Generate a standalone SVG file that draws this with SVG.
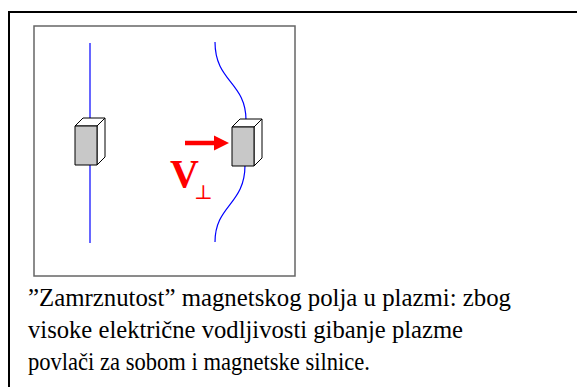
<svg xmlns="http://www.w3.org/2000/svg" width="577" height="387" viewBox="0 0 577 387">
  <defs>
    <style>
      .frame { fill: none; stroke: #000; stroke-width: 2; }
      .panel { fill: #fff; stroke: #666; stroke-width: 1.5; }
      .field { fill: none; stroke: #0000ff; stroke-width: 1.2; }
      .face { stroke: #000; stroke-width: 1; stroke-linejoin: round; }
      .front { fill: #c8c8c8; }
      .side { fill: #fff; }
      .serif { font-family: "Liberation Serif", "Times New Roman", "DejaVu Serif", serif; }
      .caption { font-size: 25px; fill: #000; }
      .vel { fill: #ff0000; }
    </style>
    <!-- block of plasma: front face, top and right side -->
    <g id="block">
      <polygon class="face side" points="0,0 8,-8 30,-8 22,0"/>
      <polygon class="face side" points="22,0 30,-8 30,31 22,39"/>
      <rect class="face front" x="0" y="0" width="22" height="39"/>
    </g>
  </defs>

  <rect class="frame" x="9" y="12" width="620" height="420"/>

  <g id="panel">
    <rect class="panel" x="34" y="26" width="261" height="250"/>
  </g>

  <!-- field lines -->
  <g id="connectors">
    <line class="field" x1="90" y1="43" x2="90" y2="243"/>
    <path class="field" d="M215,42 C215,82 246,82 246,120"/>
    <path class="field" d="M245,165 C245,205 215,205 215,242"/>
  </g>

  <g id="block-left">
    <use href="#block" x="75" y="126"/>
  </g>
  <g id="block-right">
    <use href="#block" x="232" y="127"/>
  </g>

  <g id="velocity">
    <line x1="185" y1="143" x2="216" y2="143" stroke="#ff0000" stroke-width="4.5"/>
    <polygon points="214,135.5 229,143 214,150.5" fill="#ff0000"/>
    <text class="vel serif" x="170" y="187" font-size="40" font-weight="bold">V<tspan font-weight="normal" font-size="20" dx="-5" dy="12">⊥</tspan></text>
  </g>

  <g id="caption">
    <text class="caption serif" x="28" y="306" textLength="483" lengthAdjust="spacingAndGlyphs">”Zamrznutost” magnetskog polja u plazmi: zbog</text>
    <text class="caption serif" x="28" y="338" textLength="435" lengthAdjust="spacingAndGlyphs">visoke električne vodljivosti gibanje plazme</text>
    <text class="caption serif" x="28" y="370" textLength="342" lengthAdjust="spacingAndGlyphs">povlači za sobom i magnetske silnice.</text>
  </g>
</svg>
